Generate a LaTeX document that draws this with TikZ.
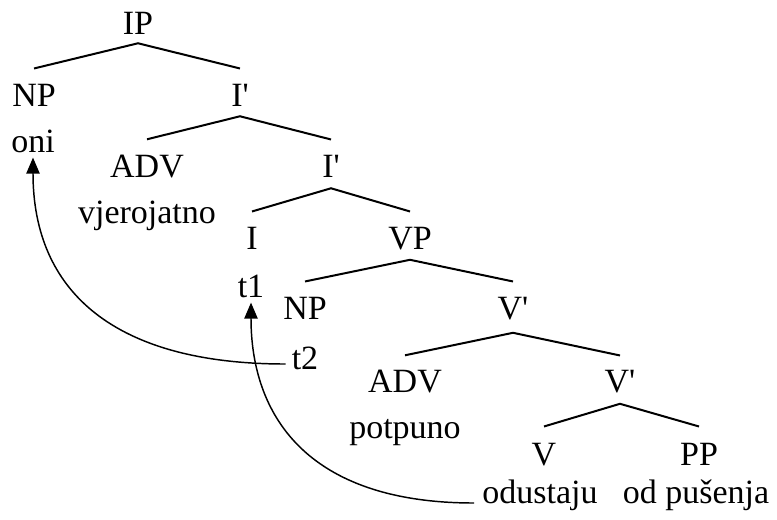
\documentclass[tikz,border=0pt]{standalone}
\usepackage{fontspec}
\setmainfont{Liberation Serif}
\usepackage{tikz}
\usetikzlibrary{arrows.meta, calc}

\newcommand{\barcat}[1]{#1\textquotesingle}

\begin{document}
\begin{tikzpicture}[
  x=0.75pt, y=-0.75pt,
  cat/.style={anchor=base, inner sep=0pt, font=\fontsize{25.5}{30}\selectfont},
  branch/.style={line width=1.5pt, line join=miter},
  trace/.style={-{Triangle[length=12pt, width=10pt]}, line width=1.1pt}]

  \useasboundingbox[fill=white] (0,0) rectangle (777,519);

  % ── Categories and words (placed on their baselines) ─────────────
  \node[cat] (ip)    at (138, 34)  {IP};
  \node[cat] (np1)   at (34, 106)  {NP};
  \node[cat] (ibar1) at (240, 106) {\barcat{I}};
  \node[cat] (oni)   at (33, 152)  {oni};
  \node[cat] (adv1)  at (147, 177) {ADV};
  \node[cat] (ibar2) at (331, 177) {\barcat{I}};
  \node[cat] (vjer)  at (147, 223) {vjerojatno};
  \node[cat] (i)     at (252, 249) {I};
  \node[cat] (vp)    at (410, 249) {VP};
  \node[cat] (t1)    at (251, 297) {t1};
  \node[cat] (np2)   at (305, 319) {NP};
  \node[cat] (vbar1) at (513, 319) {\barcat{V}};
  \node[cat] (t2)    at (305, 369) {t2};
  \node[cat] (adv2)  at (405, 392) {ADV};
  \node[cat] (vbar2) at (620, 392) {\barcat{V}};
  \node[cat] (potp)  at (405, 438) {potpuno};
  \node[cat] (v)     at (544, 465) {V};
  \node[cat] (pp)    at (699, 465) {PP};
  \node[cat] (odu)   at (540, 503) {odustaju};
  \node[cat] (pus)   at (696, 503) {od pušenja};

  % ── Branches ─────────────────────────────────────────────────────
  \draw[branch] ($(np1.north)+(0,-15)$) -- ($(ip.south)+(0,9)$) -- ($(ibar1.north)+(0,-15)$);
  \draw[branch] ($(adv1.north)+(0,-15)$) -- ($(ibar1.south)+(0,10)$) -- ($(ibar2.north)+(0,-15)$);
  \draw[branch] ($(i.north)+(0,-15)$) -- ($(ibar2.south)+(0,11)$) -- ($(vp.north)+(0,-15)$);
  \draw[branch] ($(np2.north)+(0,-15)$) -- ($(vp.south)+(0,10)$) -- ($(vbar1.north)+(0,-15)$);
  \draw[branch] ($(adv2.north)+(0,-14)$) -- ($(vbar1.south)+(0,13)$) -- ($(vbar2.north)+(0,-14)$);
  \draw[branch] ($(v.north)+(0,-16)$) -- ($(vbar2.south)+(0,11)$) -- ($(pp.north)+(0,-16)$);

  % ── Movement traces ──────────────────────────────────────────────
  \draw[trace] ($(t2.base west)+(-6,-5)$) .. controls +(-170,0) and +(0,135) .. ($(oni.south)+(0,5)$);
  \draw[trace] ($(odu.base west)+(-8,0)$) .. controls +(-170,0) and +(0,110) .. ($(t1.south)+(0,5)$);

\end{tikzpicture}
\end{document}
